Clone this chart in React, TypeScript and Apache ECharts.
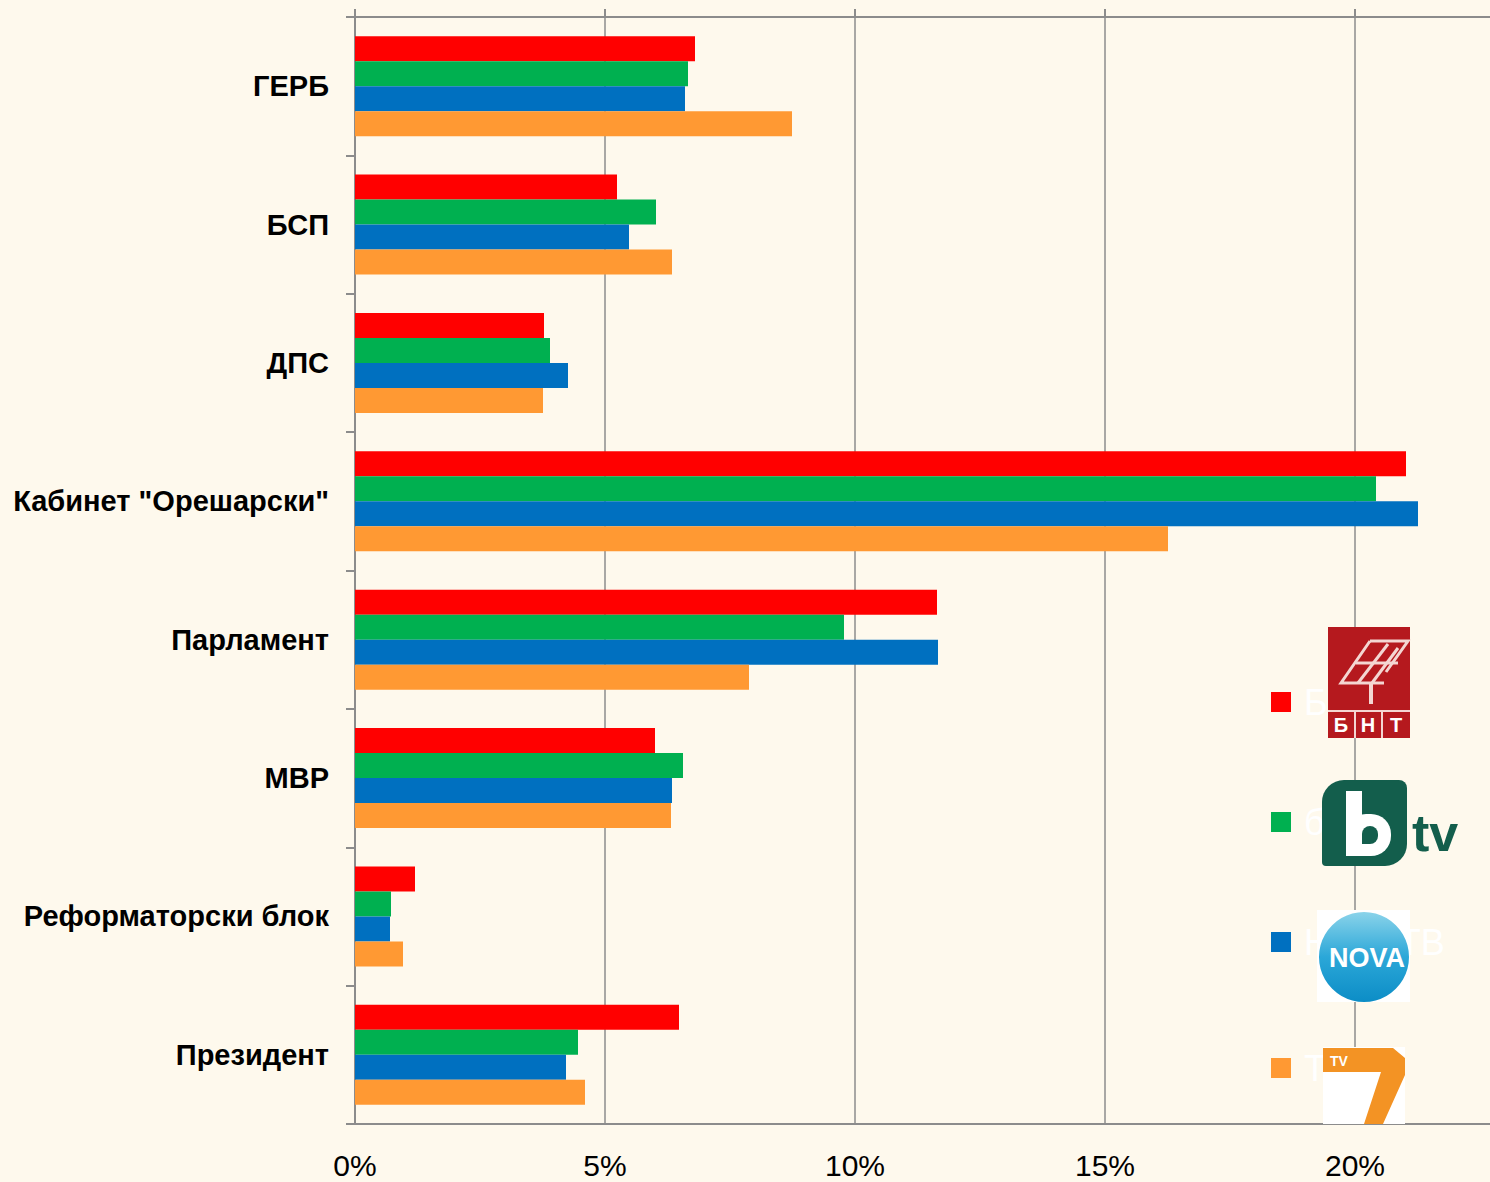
import React, { useEffect, useRef } from "react";
import * as echarts from "echarts";

const categories = [
  "ГЕРБ",
  "БСП",
  "ДПС",
  'Кабинет "Орешарски"',
  "Парламент",
  "МВР",
  "Реформаторски блок",
  "Президент",
];

const seriesNames = ["БНТ", "бТВ", "Нова ТВ", "ТВ7"];
const bntValues = [6.8, 5.24, 3.78, 21.02, 11.64, 6.0, 1.2, 6.48];
const btvValues = [6.66, 6.02, 3.9, 20.42, 9.78, 6.56, 0.72, 4.46];
const novaValues = [6.6, 5.48, 4.26, 21.26, 11.66, 6.34, 0.7, 4.22];
const tv7Values = [8.74, 6.34, 3.76, 16.26, 7.88, 6.32, 0.96, 4.6];
const seriesValues = [bntValues, btvValues, novaValues, tv7Values];
const seriesColors = ["#FF0000", "#00B050", "#0070C0", "#FF9933"];

const xTicks = [0, 5, 10, 15, 20, 25];

export default function App() {
  const ref = useRef<HTMLDivElement>(null);
  useEffect(() => {
    if (!ref.current) return;
    const chart = echarts.init(ref.current, undefined, { renderer: "svg" });
    const gray = "#8c8c8c";
    const legendTops = [692, 812, 932, 1058];
    const option: any = {
      animation: false,
      backgroundColor: "#FEF9ED",
      textStyle: { fontFamily: "Liberation Sans, Arial, sans-serif" },
      grid: {
        left: 355,
        top: 17,
        width: 1250,
        height: 1107,
        containLabel: false,
        outerBoundsMode: "none",
      },
      legend: seriesNames.map((n, i) => ({
        data: [n],
        left: 1266,
        top: legendTops[i] - 13,
        itemWidth: 20,
        itemHeight: 20,
        icon: "rect",
        selectedMode: false,
        textStyle: { color: "#ffffff", fontSize: 36, padding: [0, 0, 0, 8], fontFamily: "Liberation Sans, Arial, sans-serif" },
      })),
      xAxis: [
        {
          type: "value",
          position: "bottom",
          min: xTicks[0],
          max: xTicks[xTicks.length - 1],
          interval: 5,
          axisLine: { show: true, lineStyle: { color: gray, width: 2 } },
          axisTick: { show: false },
          axisLabel: {
            formatter: "{value}%",
            color: "#000",
            fontSize: 30,
            fontFamily: "Liberation Sans, Arial, sans-serif",
            margin: 26,
            showMaxLabel: false,
          },
          splitLine: { show: true, lineStyle: { color: gray, width: 1.5 } },
        },
        {
          type: "value",
          position: "top",
          min: xTicks[0],
          max: xTicks[xTicks.length - 1],
          interval: 5,
          axisLine: { show: true, lineStyle: { color: gray, width: 2 } },
          axisTick: { show: true, length: 8, lineStyle: { color: gray, width: 2 } },
          axisLabel: { show: false },
          splitLine: { show: false },
        },
      ],
      yAxis: {
        type: "category",
        inverse: true,
        data: categories,
        axisLine: { show: true, lineStyle: { color: gray, width: 2 } },
        axisTick: { show: true, length: 9, lineStyle: { color: gray, width: 2 } },
        axisLabel: {
          color: "#000",
          fontWeight: "bold",
          fontSize: 29,
          margin: 26,
          fontFamily: "Liberation Sans, Arial, sans-serif",
        },
      },
      series: seriesNames.map((n, i) => ({
        name: n,
        type: "bar",
        xAxisIndex: 0,
        data: seriesValues[i],
        barWidth: 25,
        barGap: "0%",
        itemStyle: { color: seriesColors[i] },
      })),
      graphic: [
        // BNT logo
        { type: "rect", z: 100, shape: { x: 1328, y: 627, width: 82, height: 111 }, style: { fill: "#B5191E" } },
        { type: "polyline", z: 101, shape: { points: [[1370, 641], [1408, 641], [1386, 672]] }, style: { stroke: "#F4D6D2", lineWidth: 3, fill: "none" } },
        { type: "polyline", z: 101, shape: { points: [[1370, 641], [1341, 683], [1384, 683]] }, style: { stroke: "#F4D6D2", lineWidth: 3, fill: "none" } },
        { type: "line", z: 101, shape: { x1: 1388, y1: 644, x2: 1358, y2: 683 }, style: { stroke: "#F4D6D2", lineWidth: 3 } },
        { type: "line", z: 101, shape: { x1: 1398, y1: 648, x2: 1372, y2: 683 }, style: { stroke: "#F4D6D2", lineWidth: 3 } },
        { type: "line", z: 101, shape: { x1: 1356, y1: 663, x2: 1398, y2: 663 }, style: { stroke: "#F4D6D2", lineWidth: 3 } },
        { type: "rect", z: 101, shape: { x: 1369, y: 683, width: 4, height: 21 }, style: { fill: "#F4D6D2" } },
        { type: "line", z: 101, shape: { x1: 1328, y1: 711, x2: 1410, y2: 711 }, style: { stroke: "#F4D6D2", lineWidth: 2 } },
        { type: "line", z: 101, shape: { x1: 1355, y1: 711, x2: 1355, y2: 738 }, style: { stroke: "#F4D6D2", lineWidth: 2 } },
        { type: "line", z: 101, shape: { x1: 1382, y1: 711, x2: 1382, y2: 738 }, style: { stroke: "#F4D6D2", lineWidth: 2 } },
        { type: "text", z: 101, style: { text: "Б", x: 1341, y: 725, fill: "#fff", font: "bold 20px Liberation Sans", align: "center", verticalAlign: "middle" } },
        { type: "text", z: 101, style: { text: "Н", x: 1368, y: 725, fill: "#fff", font: "bold 20px Liberation Sans", align: "center", verticalAlign: "middle" } },
        { type: "text", z: 101, style: { text: "Т", x: 1396, y: 725, fill: "#fff", font: "bold 20px Liberation Sans", align: "center", verticalAlign: "middle" } },
        // bTV logo
        { type: "rect", z: 100, shape: { x: 1322, y: 780, width: 85, height: 86, r: [22, 8, 22, 4] }, style: { fill: "#135E4C" } },
        { type: "rect", z: 101, shape: { x: 1346, y: 791, width: 16, height: 65 }, style: { fill: "#ffffff" } },
        { type: "rect", z: 101, shape: { x: 1346, y: 814, width: 45, height: 42, r: [20, 20, 20, 0] }, style: { fill: "#ffffff" } },
        { type: "rect", z: 102, shape: { x: 1362, y: 826, width: 16, height: 18, r: [8, 8, 8, 0] }, style: { fill: "#135E4C" } },
        { type: "text", z: 101, style: { text: "tv", x: 1412, y: 833, fill: "#135E4C", font: "bold 52px Liberation Sans", verticalAlign: "middle" } },
        // NOVA logo
        { type: "rect", z: 100, shape: { x: 1317, y: 910, width: 93, height: 92 }, style: { fill: "#ffffff" } },
        {
          type: "circle",
          z: 101,
          shape: { cx: 1364, cy: 957, r: 45 },
          style: {
            fill: {
              type: "linear", x: 0, y: 0, x2: 0, y2: 1,
              colorStops: [
                { offset: 0, color: "#8AD3EA" },
                { offset: 0.5, color: "#2BA7D8" },
                { offset: 1, color: "#0C8DC6" },
              ],
            },
          },
        },
        { type: "text", z: 102, style: { text: "NOVA", x: 1367, y: 958, fill: "#fff", font: "bold 27px Liberation Sans", align: "center", verticalAlign: "middle" } },
        // TV7 logo
        { type: "rect", z: 100, shape: { x: 1323, y: 1047, width: 82, height: 77 }, style: { fill: "#ffffff" } },
        {
          type: "polygon",
          z: 101,
          shape: { points: [[1323, 1048], [1393, 1048], [1405, 1058], [1405, 1075], [1383, 1124], [1364, 1124], [1381, 1072], [1323, 1072]] },
          style: { fill: "#F39324" },
        },
        { type: "text", z: 102, style: { text: "TV", x: 1330, y: 1061, fill: "#fff", font: "bold 14px Liberation Sans", verticalAlign: "middle" } },
      ],
    };
    chart.setOption(option);
    return () => chart.dispose();
  }, []);
  return (
    <div
      ref={ref}
      style={{ position: "fixed", left: 0, top: 0, width: 1490, height: 1182 }}
    />
  );
}
